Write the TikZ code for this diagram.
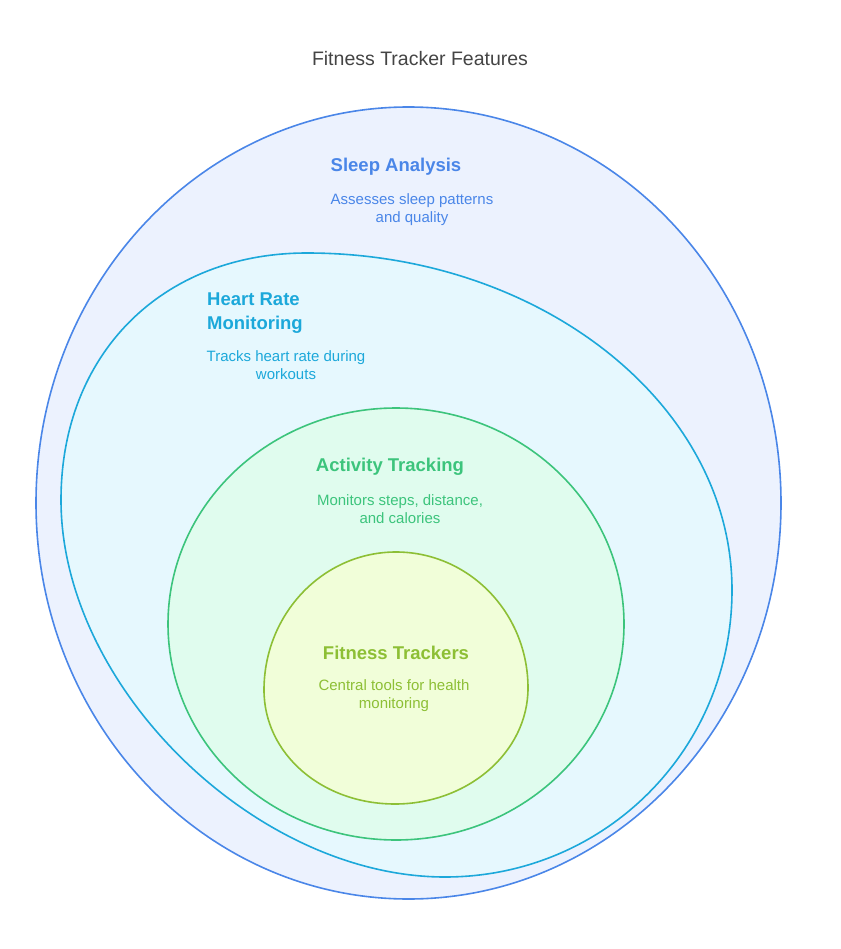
\documentclass[tikz,border=0pt]{standalone}
\usepackage{fontspec}
\setmainfont{Liberation Sans}
\definecolor{blueS}{HTML}{4A86E8}
\definecolor{blueF}{HTML}{ECF2FE}
\definecolor{cyanS}{HTML}{1CA8DA}
\definecolor{cyanF}{HTML}{E6F8FE}
\definecolor{greenS}{HTML}{3CC47C}
\definecolor{greenF}{HTML}{E0FCEE}
\definecolor{limeS}{HTML}{8DBF35}
\definecolor{limeF}{HTML}{F1FED9}
\definecolor{titleC}{HTML}{444444}
\tikzset{
  ring/.style={line width=1.6pt},
  head/.style={font=\fontsize{18.5}{24}\selectfont\bfseries, inner sep=0pt},
  body/.style={font=\fontsize{15}{18}\selectfont, align=center, inner sep=0pt},
}
\begin{document}
\begin{tikzpicture}[x=1pt,y=-1pt]
\useasboundingbox (0,0) rectangle (840,949);
% outer blue
\draw[ring, draw=blueS, fill=blueF] (408.5,503) ellipse [x radius=372.5, y radius=396];
% cyan egg
\draw[ring, draw=cyanS, fill=cyanF]
  (307,253) .. controls (540,253) and (732,404) .. (732,590)
            .. controls (732,750) and (604,877) .. (445,877)
            .. controls (256,877) and (61,687) .. (61,500)
            .. controls (61,354) and (162,253) .. (307,253) -- cycle;
% green
\draw[ring, draw=greenS, fill=greenF] (396,624) ellipse [x radius=228, y radius=216];
% lime
\draw[ring, draw=limeS, fill=limeF]
  (396,552) .. controls (469,552) and (528,613) .. (528,688)
            .. controls (528,752) and (468,804) .. (395,804)
            .. controls (322,804) and (264,754) .. (264,690)
            .. controls (264,614) and (323,552) .. (396,552) -- cycle;
% texts
\node[font=\fontsize{19.5}{22}\selectfont, text=titleC, inner sep=0pt] (title) at (420,59) {Fitness Tracker Features};
\node[head, text=blueS] (sleepH) at (396,167) {Sleep Analysis};
\node[body, text=blueS] (sleepB) at (412,210) {Assesses sleep patterns\\and quality};
\node[head, text=cyanS, align=left, anchor=north west] (heartH) at (207,293) {Heart Rate\\Monitoring};
\node[body, text=cyanS] (heartB) at (286,365) {Tracks heart rate during\\workouts};
\node[head, text=greenS] (actH) at (390,467) {Activity Tracking};
\node[body, text=greenS] (actB) at (400,509) {Monitors steps, distance,\\and calories};
\node[head, text=limeS] (fitH) at (396,653) {Fitness Trackers};
\node[body, text=limeS] (fitB) at (394,696) {Central tools for health\\monitoring};
\end{tikzpicture}
\end{document}
